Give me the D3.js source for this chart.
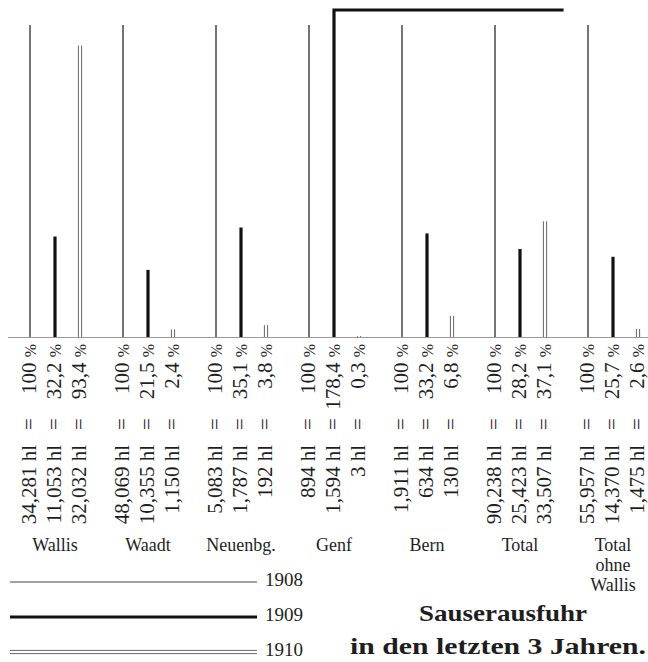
<!DOCTYPE html>
<html>
<head>
<meta charset="utf-8">
<script src="https://cdn.jsdelivr.net/npm/d3@7"></script>
<style>
  body { margin: 0; background: #fff; }
  text { font-family: "Liberation Serif", "DejaVu Serif", serif; fill: #1e1e1e; }
</style>
</head>
<body>
<svg id="chart" width="648" height="662"></svg>
<script>
// Sauserausfuhr 1908-1910
const groups = ["Wallis", "Waadt", "Neuenbg.", "Genf", "Bern", "Total", "Total ohne Wallis"];
const years = ["1908", "1909", "1910"];

const hl1908 = [34281, 48069, 5083, 894, 1911, 90238, 55957];
const hl1909 = [11053, 10355, 1787, 1594, 634, 25423, 14370];
const hl1910 = [32032, 1150, 192, 3, 130, 33507, 1475];

const pct1908 = [100, 100, 100, 100, 100, 100, 100];
const pct1909 = [32.2, 21.5, 35.1, 178.4, 33.2, 28.2, 25.7];
const pct1910 = [93.4, 2.4, 3.8, 0.3, 6.8, 37.1, 2.6];

const titleLines = ["Sauserausfuhr", "in den letzten 3 Jahren."];

const hlByYear = [hl1908, hl1909, hl1910];
const pctByYear = [pct1908, pct1909, pct1910];

const rows = groups.flatMap((g, i) => years.map((yr, j) => ({
  group: g, year: yr, hl: hlByYear[j][i], pct: pctByYear[j][i]
})));

const svg = d3.select('#chart');

const x = d3.scaleBand().domain(groups).range([8.5, 659.5]);
const xi = d3.scalePoint().domain(years).range([-25, 25]);
const y = d3.scaleLinear().domain([0, 100]).range([337, 25]);
const topLimit = 10;

const barX = d => x(d.group) + x.bandwidth() / 2 + xi(d.year);

const fmtHl = d => d3.format(',')(d) + ' hl';
const fmtPct = d => d === 100 ? '100' : d3.format('.1f')(d).replace('.', ',');

// baseline
svg.append('line')
  .attr('x1', 8).attr('x2', 648)
  .attr('y1', y(0) + 0.5).attr('y2', y(0) + 0.5)
  .style('stroke', '#9a9a9a')
  .style('stroke-width', 1);

// BARS
const bars = svg.append('g').attr('class', 'bars');

function barPath(d) {
  const bx = barX(d);
  const top = y(d.pct);
  if (top >= topLimit) return `M${bx},${y(0)}V${top}`;
  // bar too tall: the rest is folded over to the right at the top
  return `M${bx},${y(0)}V${topLimit}H${bx + (topLimit - top)}`;
}

bars.selectAll('path.y1908')
  .data(rows.filter(d => d.year === '1908'))
  .enter().append('path')
  .attr('class', 'y1908')
  .attr('d', barPath)
  .style('fill', 'none')
  .style('stroke', '#2b2b2b')
  .style('stroke-width', 1.3);

bars.selectAll('path.y1909')
  .data(rows.filter(d => d.year === '1909'))
  .enter().append('path')
  .attr('class', 'y1909')
  .attr('d', barPath)
  .style('fill', 'none')
  .style('stroke', '#111')
  .style('stroke-width', 3.2)
  .style('stroke-linejoin', 'miter');

[-1.6, 1.6].forEach(off => {
  bars.append('g')
    .attr('transform', `translate(${off},0)`)
    .selectAll('path')
    .data(rows.filter(d => d.year === '1910'))
    .enter().append('path')
    .attr('d', barPath)
    .style('fill', 'none')
    .style('stroke', '#555')
    .style('stroke-width', 0.9);
});

// LABELS (rotated)
const labels = svg.append('g').attr('class', 'labels')
  .selectAll('g')
  .data(rows)
  .enter().append('g')
  .attr('transform', d => `translate(${barX(d) - 1},0)`);

labels.append('text')
  .attr('transform', 'translate(0,445) rotate(-90)')
  .attr('text-anchor', 'end')
  .attr('dy', '0.35em')
  .style('font-size', '21px')
  .text(d => fmtHl(d.hl));

labels.append('text')
  .attr('transform', 'translate(0,424) rotate(-90)')
  .attr('text-anchor', 'middle')
  .attr('dy', '0.35em')
  .style('font-size', '21px')
  .text('=');

const pctText = labels.append('text')
  .attr('transform', 'translate(0,344) rotate(-90)')
  .attr('text-anchor', 'end')
  .attr('dy', '0.35em')
  .style('font-size', '21px');
pctText.append('tspan').text(d => fmtPct(d.pct) + ' ');
pctText.append('tspan').style('font-size', '16px').text('%');

// GROUP NAMES
const names = svg.append('g').attr('class', 'names')
  .selectAll('text')
  .data(groups)
  .enter().append('text')
  .attr('x', d => x(d) + x.bandwidth() / 2)
  .attr('y', 551)
  .attr('text-anchor', 'middle')
  .style('font-size', '18px');

names.selectAll('tspan')
  .data(d => d.split(' '))
  .enter().append('tspan')
  .attr('x', function () { return d3.select(this.parentNode).attr('x'); })
  .attr('dy', (d, i) => i === 0 ? 0 : 20)
  .text(d => d);

// LEGEND
const legend = svg.append('g').attr('class', 'legend')
  .selectAll('g')
  .data(years)
  .enter().append('g')
  .attr('transform', (d, i) => `translate(0,${582 + i * 35})`);

legend.filter(d => d === '1908').append('line')
  .attr('x1', 10).attr('x2', 257)
  .style('stroke', '#444').style('stroke-width', 1);
legend.filter(d => d === '1909').append('line')
  .attr('x1', 10).attr('x2', 257)
  .style('stroke', '#111').style('stroke-width', 3.2);
legend.filter(d => d === '1910').selectAll('line')
  .data([-1.6, 1.6])
  .enter().append('line')
  .attr('x1', 10).attr('x2', 257)
  .attr('y1', d => d).attr('y2', d => d)
  .style('stroke', '#555').style('stroke-width', 0.9);

legend.append('text')
  .attr('x', 265)
  .attr('y', 4)
  .style('font-size', '19px')
  .text(d => d);

// TITLE
svg.append('g').attr('class', 'title')
  .selectAll('text')
  .data(titleLines)
  .enter().append('text')
  .attr('x', (d, i) => i === 0 ? 503 : 498)
  .attr('y', (d, i) => i === 0 ? 621 : 654)
  .attr('text-anchor', 'middle')
  .attr('textLength', (d, i) => i === 0 ? 168 : 296)
  .attr('lengthAdjust', 'spacingAndGlyphs')
  .style('font-size', '24px')
  .style('font-weight', 'bold')
  .text(d => d);
</script>
</body>
</html>
